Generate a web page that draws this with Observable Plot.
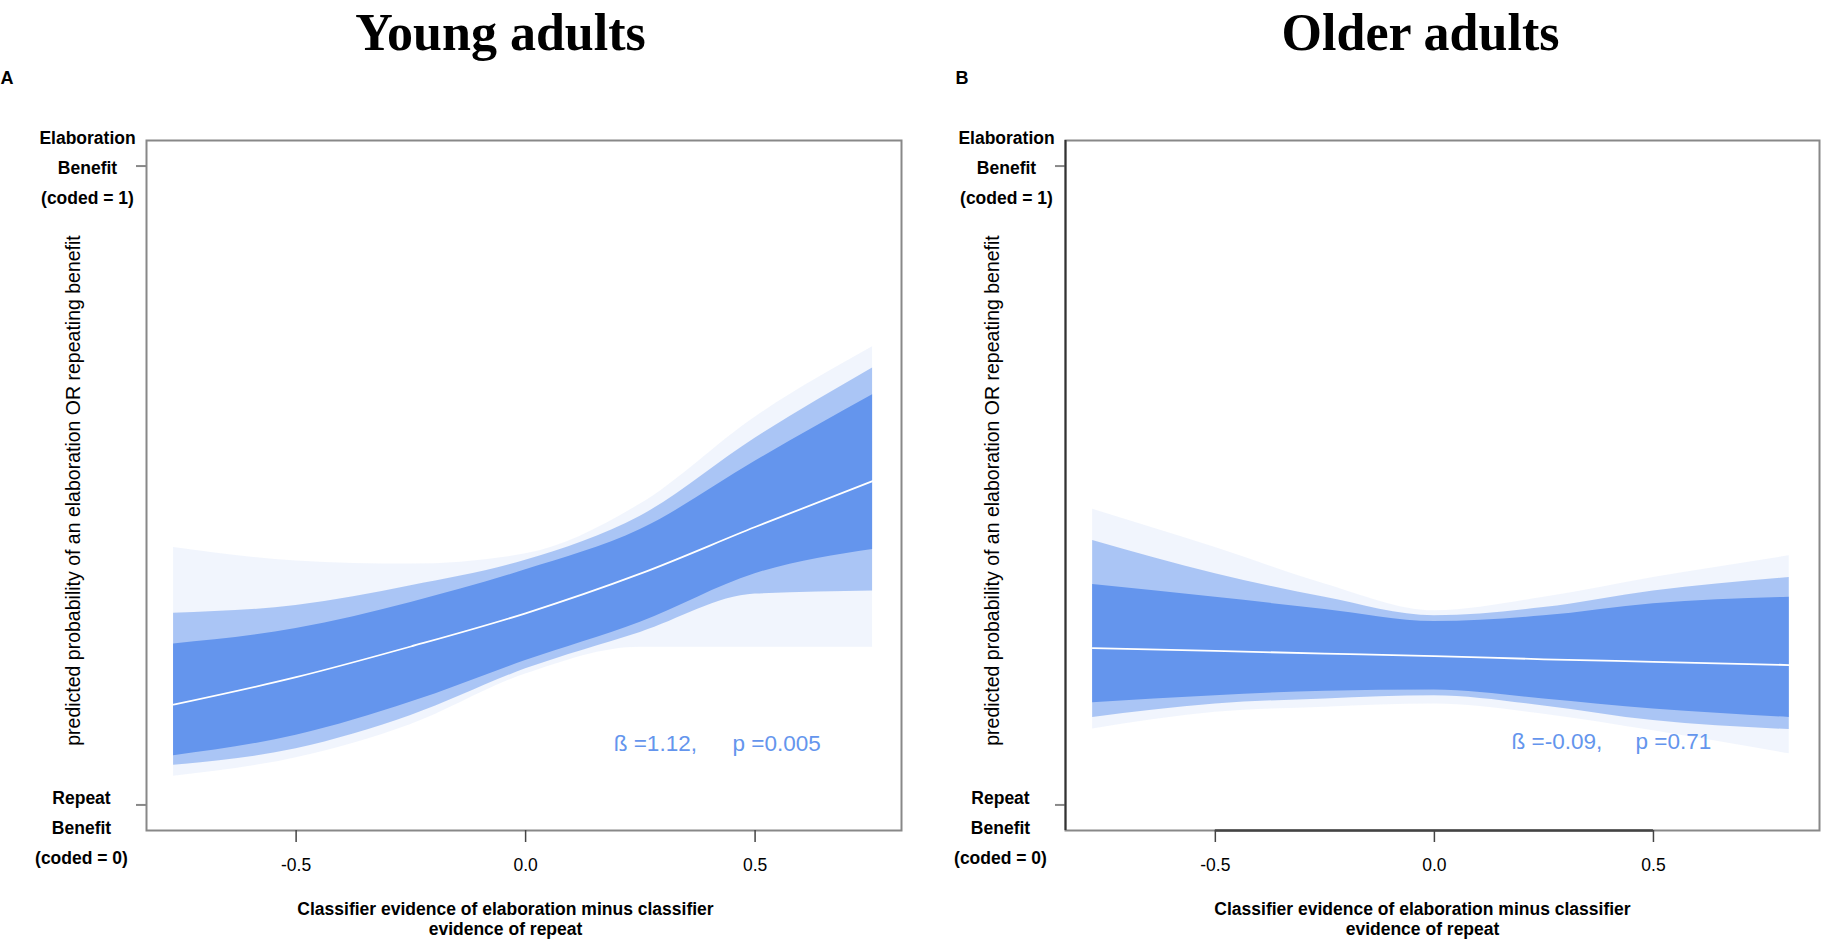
<!DOCTYPE html>
<html><head><meta charset="utf-8">
<script src="https://cdn.jsdelivr.net/npm/d3@7"></script>
<script src="https://cdn.jsdelivr.net/npm/@observablehq/plot@0.6"></script>
<style>
html,body{margin:0;padding:0;background:#fff;}
#chart{position:relative;width:1822px;height:941px;overflow:hidden;background:#fff;}
</style></head><body><div id="chart"></div>
<script>
// ---- shared labels / ticks ----
const panelTitles = ["Young adults", "Older adults"];
const panelLetters = ["A", "B"];
const xTicks = [-0.5, 0, 0.5];
const yTicks = [0, 1];
const yTickLabels = ["Repeat\nBenefit\n(coded = 0)", "Elaboration\nBenefit\n(coded = 1)"];
const yTitle = "predicted probability of an elaboration OR repeating benefit";
const xTitle = "Classifier evidence of elaboration minus classifier\nevidence of repeat";
const yDomain = [-0.04, 1.04];

// ---- Panel A: young adults (posterior band) ----
const xA        = [-0.767, -0.5,  -0.25, 0,     0.25,  0.5,   0.756];
const meanA     = [0.157,  0.200, 0.248, 0.300, 0.362, 0.435, 0.507];
const outerTopA = [0.403,  0.382, 0.377, 0.393, 0.471, 0.607, 0.717];
const midTopA   = [0.300,  0.312, 0.343, 0.383, 0.452, 0.574, 0.684];
const coreTopA  = [0.252,  0.276, 0.317, 0.368, 0.431, 0.538, 0.642];
const coreBotA  = [0.077,  0.109, 0.161, 0.226, 0.286, 0.362, 0.400];
const midBotA   = [0.062,  0.088, 0.140, 0.213, 0.270, 0.330, 0.335];
const outerBotA = [0.045,  0.074, 0.126, 0.205, 0.247, 0.247, 0.247];
const statsA = ["ß =1.12,", "p =0.005"];

// ---- Panel B: older adults ----
const xB        = [-0.78,  -0.5,  -0.25, 0,     0.25,  0.5,   0.81];
const meanB     = [0.2455, 0.241, 0.237, 0.233, 0.228, 0.224, 0.219];
const outerTopB = [0.463,  0.403, 0.346, 0.304, 0.325, 0.356, 0.390];
const midTopB   = [0.414,  0.362, 0.325, 0.296, 0.309, 0.335, 0.356];
const coreTopB  = [0.345,  0.325, 0.306, 0.287, 0.296, 0.315, 0.325];
const coreBotB  = [0.160,  0.171, 0.178, 0.180, 0.166, 0.150, 0.137];
const midBotB   = [0.137,  0.158, 0.166, 0.171, 0.155, 0.132, 0.118];
const outerBotB = [0.119,  0.145, 0.153, 0.158, 0.142, 0.116, 0.080];
const statsB = ["ß =-0.09,", "p =0.71"];

function table(xs, mean, oT, mT, cT, cB, mB, oB) {
  return xs.map((x, i) => ({x, mean: mean[i], oT: oT[i], mT: mT[i], cT: cT[i], cB: cB[i], mB: mB[i], oB: oB[i]}));
}
const dataA = table(xA, meanA, outerTopA, midTopA, coreTopA, coreBotA, midBotA, outerBotA);
const dataB = table(xB, meanB, outerTopB, midTopB, coreTopB, coreBotB, midBotB, outerBotB);

const BLUE = "#6495ED";
const SANS = "'Liberation Sans', Arial, sans-serif";

function panel(cfg) {
  const {data, xDomain, left, mL, mR, title, letter, letterDx, titleDx, xTitleDx, stats, statX, statY, dark} = cfg;
  const marks = [
    Plot.areaY(data, {x: "x", y1: "oB", y2: "oT", fill: BLUE, fillOpacity: 0.09, curve: "monotone-x"}),
    Plot.areaY(data, {x: "x", y1: "mB", y2: "mT", fill: BLUE, fillOpacity: 0.5, curve: "monotone-x"}),
    Plot.areaY(data, {x: "x", y1: "cB", y2: "cT", fill: BLUE, fillOpacity: 1, curve: "monotone-x"}),
    Plot.line(data, {x: "x", y: "mean", stroke: "white", strokeWidth: 1.8, curve: "monotone-x"}),
    Plot.frame({stroke: "#888", strokeWidth: 2}),
    Plot.axisX({ticks: xTicks, tickSize: 12, tickPadding: 16, tickFormat: d => d.toFixed(1),
      fontSize: 17.5, stroke: "#444", strokeWidth: 1.5, label: null}),
    Plot.axisY({ticks: yTicks, tickSize: 10, tickFormat: () => "", stroke: "#888", strokeWidth: 2, label: null}),
    Plot.text([yTickLabels[1]], {y: yTicks[1], frameAnchor: "left", dx: -59, dy: -2, text: d => d,
      textAnchor: "middle", lineAnchor: "middle", lineHeight: 1.714, fontWeight: "bold", fontSize: 17.5}),
    Plot.text([yTickLabels[0]], {y: yTicks[0], frameAnchor: "left", dx: -65, dy: 19, text: d => d,
      textAnchor: "middle", lineAnchor: "middle", lineHeight: 1.714, fontWeight: "bold", fontSize: 17.5}),
    Plot.text([yTitle], {frameAnchor: "left", rotate: -90, dx: -73, dy: 5, text: d => d,
      textAnchor: "middle", lineAnchor: "middle", fontSize: 19.5}),
    Plot.text([xTitle], {frameAnchor: "bottom", dx: xTitleDx, dy: 70, text: d => d,
      textAnchor: "middle", lineAnchor: "top", lineHeight: 1.143, fontWeight: "bold", fontSize: 17.5}),
    Plot.text([title], {frameAnchor: "top", dx: titleDx, dy: -91, text: d => d, lineAnchor: "bottom",
      fontFamily: "'Liberation Serif', 'Times New Roman', serif", fontWeight: "bold", fontSize: 52}),
    Plot.text([letter], {frameAnchor: "top-left", dx: letterDx, dy: -57, text: d => d, textAnchor: "start",
      lineAnchor: "bottom", fontWeight: "bold", fontSize: 18}),
    Plot.text([stats[0]], {x: statX[0], y: statY, text: d => d, textAnchor: "start", lineAnchor: "bottom",
      fill: BLUE, fontSize: 22.5}),
    Plot.text([stats[1]], {x: statX[1], y: statY, text: d => d, textAnchor: "start", lineAnchor: "bottom",
      fill: BLUE, fontSize: 22.5})
  ];
  if (dark) {
    marks.push(Plot.ruleX([xDomain[0]], {stroke: "#333", strokeWidth: 2}));
    marks.push(Plot.ruleY([yDomain[0]], {x1: xTicks[0], x2: xTicks[xTicks.length - 1], stroke: "#444", strokeWidth: 2.5}));
  }
  const svg = Plot.plot({
    width: 911, height: 941,
    marginLeft: mL, marginRight: mR, marginTop: 140, marginBottom: 111,
    x: {domain: xDomain, axis: null},
    y: {domain: yDomain, axis: null},
    style: {position: "absolute", left: left + "px", top: "0px", fontFamily: SANS, fontSize: "17.5px",
      color: "#000", background: "transparent", overflow: "visible", maxWidth: "none"},
    marks
  });
  document.getElementById("chart").appendChild(svg);
}

panel({data: dataA, xDomain: [-0.826, 0.819], left: 0, mL: 146, mR: 10,
  title: panelTitles[0], letter: panelLetters[0], letterDx: -146, titleDx: -23.5, xTitleDx: -18.5,
  stats: statsA, statX: [0.192, 0.451], statY: 0.0846, dark: false});
panel({data: dataB, xDomain: [-0.842, 0.879], left: 911, mL: 154, mR: 3,
  title: panelTitles[1], letter: panelLetters[1], letterDx: -110, titleDx: -22, xTitleDx: -20,
  stats: statsB, statX: [0.176, 0.459], statY: 0.0878, dark: true});
</script></body></html>
